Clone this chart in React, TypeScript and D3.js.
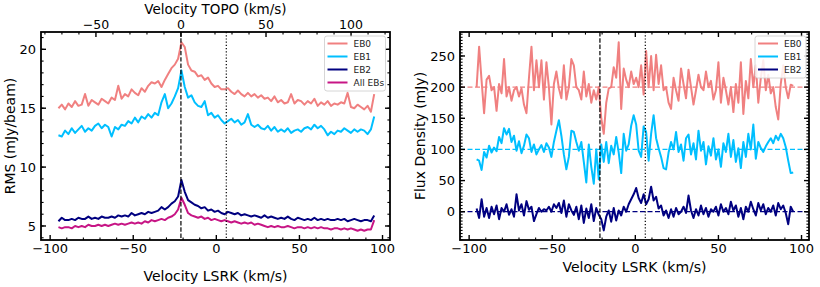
import * as d3 from 'd3'

// channel grids (km/s, LSRK)
const VEL_RMS = d3.range(-95, 96, 2)
const VEL_SPEC = d3.range(-95.5, 95.1, 1.5)

const RMS_EB0 = [
  15.0, 15.3, 14.9, 15.4, 15.1, 15.6, 15.2, 15.3, 16.2, 15.2, 15.7, 15.5, 15.3, 15.8, 15.6, 15.4,
  15.9, 15.7, 16.9, 15.8, 16.2, 16.0, 16.6, 16.3, 16.1, 16.7, 16.4, 16.9, 17.2, 17.1, 17.3, 16.8,
  17.4, 17.9, 18.4, 18.7, 19.2, 20.6, 20.2, 18.7, 18.2, 18.1, 17.7, 17.8, 17.4, 17.6, 17.1, 16.8,
  16.9, 16.6, 16.6, 16.7, 16.4, 16.2, 16.5, 16.2, 16.0, 16.3, 16.0, 16.2, 15.9, 16.1, 15.8, 15.9,
  15.6, 16.0, 15.5, 15.7, 15.4, 15.5, 16.2, 15.4, 15.7, 15.6, 15.3, 15.6, 15.4, 15.8, 15.2, 15.5,
  15.3, 15.6, 15.2, 15.4, 15.3, 15.5, 15.4, 16.3, 15.1, 15.0, 15.3, 15.1, 14.9, 15.2, 14.7, 16.2,
]
const RMS_EB1 = [
  12.7, 12.6, 13.1, 12.8, 13.3, 12.9, 13.2, 13.5, 13.0, 13.3, 13.1, 13.5, 13.7, 13.3, 13.6, 13.4,
  12.6, 13.4, 13.2, 13.6, 13.5, 13.9, 13.7, 14.2, 13.8, 14.3, 14.1, 14.5, 14.2, 14.6, 14.4, 15.5,
  16.2, 15.0, 15.4, 16.0, 16.7, 18.2, 16.8, 15.9, 16.1, 15.5, 15.2, 15.1, 15.6, 14.4, 14.6, 14.2,
  14.4, 14.0, 13.7, 13.9, 14.1, 13.8, 14.0, 13.6, 13.8, 14.5, 13.6, 13.4, 13.6, 13.3, 13.2, 13.5,
  13.1, 13.4, 13.0, 13.2, 13.0, 13.3, 12.9, 13.1, 13.2, 13.0, 13.3, 13.4, 13.2, 13.6, 13.3, 13.5,
  13.2, 12.7, 13.0, 12.8, 13.1, 13.0, 13.3, 13.1, 12.9, 13.2, 13.0, 13.2, 13.1, 12.8, 13.2, 14.3,
]
const RMS_EB2 = [
  5.4, 5.7, 5.5, 5.5, 5.6, 5.5, 5.7, 5.6, 5.6, 5.8, 5.6, 5.7, 5.6, 5.8, 5.7, 5.7,
  5.8, 5.7, 5.9, 5.8, 5.9, 5.8, 6.1, 5.9, 6.0, 6.1, 6.0, 6.2, 6.1, 6.2, 6.3, 6.6,
  6.4, 6.6, 6.9, 7.1, 7.5, 8.9, 7.9, 7.2, 7.0, 6.8, 6.7, 6.5, 6.6, 6.3, 6.4, 6.2,
  6.3, 6.1, 6.0, 6.2, 6.1, 6.0, 6.1, 5.9, 6.0, 5.9, 5.8, 5.9, 5.8, 5.7, 5.9, 5.7,
  5.8, 5.7, 5.6, 5.7, 5.6, 5.8, 5.6, 5.5, 5.7, 5.6, 5.5, 5.6, 5.5, 5.7, 5.5, 5.6,
  5.5, 5.6, 5.5, 5.5, 5.6, 5.5, 5.6, 5.4, 5.5, 5.6, 5.5, 5.4, 5.5, 5.5, 5.4, 5.9,
]
const RMS_ALL = [
  4.9, 4.8, 4.9, 4.9, 4.8, 5.0, 4.9, 5.0, 4.9, 5.1, 5.0, 5.0, 5.1, 5.0, 5.1, 5.0,
  5.1, 5.2, 5.1, 5.2, 5.1, 5.2, 5.3, 5.2, 5.3, 5.2, 5.4, 5.3, 5.5, 5.4, 5.5, 5.6,
  5.5, 5.7, 5.8, 6.0, 6.4, 7.4, 6.8, 6.1, 5.9, 5.8, 5.7, 5.8, 5.6, 5.7, 5.5, 5.6,
  5.5, 5.4, 5.5, 5.4, 5.3, 5.4, 5.3, 5.2, 5.3, 5.2, 5.3, 5.1, 5.2, 5.1, 5.0, 4.9,
  5.0, 4.9, 5.0, 4.9, 4.9, 5.0, 4.9, 4.8, 4.9, 4.9, 4.8, 4.9, 4.8, 4.9, 4.8, 4.9,
  4.8, 4.8, 4.7, 4.8, 4.8, 4.7, 4.8, 4.7, 4.8, 4.7, 4.6, 4.7, 4.6, 4.7, 4.7, 5.5,
]

const SPEC_EB0 = [
  200, 265, 210, 158, 212, 218, 195, 200, 162, 205, 190, 245, 185, 200, 178, 195,
  200, 185, 198, 172, 158, 215, 265, 195, 243, 200, 243, 180, 240, 200, 140, 205,
  225, 198, 182, 235, 180, 200, 245, 235, 200, 195, 180, 225, 185, 205, 175, 195,
  180, 200, 150, 125, 175, 198, 200, 232, 215, 272, 165, 230, 212, 200, 225, 205,
  215, 200, 235, 188, 258, 200, 250, 195, 252, 205, 235, 195, 200, 175, 165, 215,
  195, 178, 230, 205, 182, 228, 200, 172, 195, 220, 200, 195, 225, 200, 210, 180,
  195, 240, 175, 215, 195, 172, 200, 160, 205, 175, 240, 157, 210, 182, 245, 200,
  235, 175, 215, 243, 195, 220, 190, 200, 168, 148, 205, 235, 200, 182, 204, 202,
]
const SPEC_EB1 = [
  84, 82, 67, 96, 87, 106, 95, 103, 97, 120, 110, 134, 124, 133, 112, 122,
  98, 113, 94, 106, 124, 118, 96, 108, 92, 100, 107, 96, 110, 103, 88, 112,
  130, 147, 122, 92, 68, 88, 130, 128, 112, 98, 112, 80, 47, 108, 72, 45,
  100, 52, 108, 80, 112, 78, 106, 92, 120, 95, 62, 125, 98, 108, 138, 155,
  140, 98, 88, 137, 128, 82, 125, 155, 118, 102, 88, 70, 68, 95, 112, 100,
  128, 96, 108, 82, 118, 124, 92, 110, 84, 130, 98, 112, 76, 105, 90, 118,
  84, 100, 72, 110, 96, 125, 88, 115, 80, 102, 70, 112, 88, 125, 100, 140,
  85, 112, 102, 96, 105, 112, 118, 110, 122, 115, 125, 118, 104, 82, 62, 63,
]
const SPEC_EB2 = [
  5, -10, 20, -8, 6, -10, 8, -4, 10, -12, 6, 0, 12, -5, 4, -8,
  28, 2, 12, -6, 17, 3, 8, -15, -4, 6, 0, 4, 2, 8, 0, 12,
  6, 14, -2, 18, -8, 12, 2, -5, 8, -12, 10, -18, 5, -10, 12, -15,
  6, -5, -12, -30, -8, 2, -16, 6, -14, 2, -6, 8, 0, 12, 20, 28,
  38, 22, 14, 28, 12, 20, 40, 18, 24, 5, 10, -6, 2, -10, 4, -8,
  6, -4, 0, 8, -2, 26, 2, -10, 4, -6, 10, -4, 6, -8, 4, 0,
  8, -6, 12, 0, 6, -4, 16, 2, 10, -8, 6, -12, 8, 0, 16, 4,
  -6, 14, 2, 12, -4, 6, 0, 10, -6, 14, 4, 10, -2, -20, 8, 0,
]

const SPEC_OFFSETS = [200, 100, 0]

const X_TICKS = [-100, -50, 0, 50, 100]
const TOPO_TICKS = [-50, 0, 50, 100]
const RMS_TICKS = [5, 10, 15, 20]
const FLUX_TICKS = [0, 50, 100, 150, 200, 250]

const V_DASHED = -21.3
const V_DOTTED = 6

const C_EB0 = '#F08080'
const C_EB1 = '#00BFFF'
const C_EB2 = '#000080'
const C_ALL = '#C71585'

const W = 820
const H = 287
const TOP = 32
const BOTTOM = 240
const FONT = 'DejaVu Sans, sans-serif'

const fmt = (v: number) => (v < 0 ? `\u2212${Math.abs(v)}` : `${v}`)

type Lin = d3.ScaleLinear<number, number>

function Frame({ x, y, yMinorStep, top }: { x: Lin; y: Lin; yMinorStep: number; top?: Lin }) {
  const [x0, x1] = x.range()
  const xMinor = d3.range(-100, 101, 10).filter((v) => !X_TICKS.includes(v))
  const [yd0, yd1] = y.domain()
  const yMin = d3.range(Math.ceil(yd0 / yMinorStep) * yMinorStep, yd1, yMinorStep)
  const topTicks = top ? TOPO_TICKS : X_TICKS
  const topMinor = top
    ? d3.range(-80, 121, 10).filter((v) => !TOPO_TICKS.includes(v))
    : xMinor
  const ts = top ?? x
  const MJ = 5
  const MN = 2.6
  return (
    <g stroke="#000">
      {X_TICKS.map((v) => (
        <line key={'b' + v} x1={x(v)} x2={x(v)} y1={BOTTOM} y2={BOTTOM - MJ} strokeWidth={1.4} />
      ))}
      {xMinor.map((v) => (
        <line key={'bm' + v} x1={x(v)} x2={x(v)} y1={BOTTOM} y2={BOTTOM - MN} strokeWidth={1.1} />
      ))}
      {topTicks.map((v) => (
        <line key={'t' + v} x1={ts(v)} x2={ts(v)} y1={TOP} y2={TOP + MJ} strokeWidth={1.4} />
      ))}
      {topMinor.map((v) => (
        <line key={'tm' + v} x1={ts(v)} x2={ts(v)} y1={TOP} y2={TOP + MN} strokeWidth={1.1} />
      ))}
      {yMin.map((v) => (
        <g key={'ym' + v}>
          <line x1={x0} x2={x0 + MN} y1={y(v)} y2={y(v)} strokeWidth={1.1} />
          <line x1={x1} x2={x1 - MN} y1={y(v)} y2={y(v)} strokeWidth={1.1} />
        </g>
      ))}
      <rect x={x0} y={TOP} width={x1 - x0} height={BOTTOM - TOP} fill="none" strokeWidth={1.8} />
    </g>
  )
}

function YMajor({ x, y, ticks }: { x: Lin; y: Lin; ticks: number[] }) {
  const [x0, x1] = x.range()
  return (
    <g>
      {ticks.map((v) => (
        <g key={v}>
          <line x1={x0} x2={x0 + 5} y1={y(v)} y2={y(v)} stroke="#000" strokeWidth={1.4} />
          <line x1={x1} x2={x1 - 5} y1={y(v)} y2={y(v)} stroke="#000" strokeWidth={1.4} />
          <text x={x0 - 5} y={y(v) + 4.7} textAnchor="end" fontSize={13} fontFamily={FONT}>
            {fmt(v)}
          </text>
        </g>
      ))}
    </g>
  )
}

function XLabels({ x, ticks, yBase, size = 13 }: { x: Lin; ticks: number[]; yBase: number; size?: number }) {
  return (
    <g>
      {ticks.map((v) => (
        <text key={v} x={x(v)} y={yBase} textAnchor="middle" fontSize={size} fontFamily={FONT}>
          {fmt(v)}
        </text>
      ))}
    </g>
  )
}

function VLines({ x }: { x: Lin }) {
  return (
    <g stroke="#000" strokeWidth={1.2}>
      <line x1={x(V_DASHED)} x2={x(V_DASHED)} y1={TOP} y2={BOTTOM} strokeDasharray="4.4 1.9" />
      <line x1={x(V_DOTTED)} x2={x(V_DOTTED)} y1={TOP} y2={BOTTOM} strokeDasharray="1.2 2" />
    </g>
  )
}

function Legend({ x, y, w, items }: { x: number; y: number; w: number; items: [string, string][] }) {
  const h = items.length * 13 + 3
  return (
    <g>
      <rect x={x} y={y} width={w} height={h} rx={2.5} fill="#fff" fillOpacity={0.85} stroke="#ccc" strokeWidth={0.8} />
      {items.map(([label, c], i) => (
        <g key={label} transform={`translate(${x + 3},${y + 7.5 + i * 13})`}>
          <line x1={0} x2={20} y1={0} y2={0} stroke={c} strokeWidth={2} />
          <text x={26} y={3.2} fontSize={9} fontFamily={FONT} fill="#222">
            {label}
          </text>
        </g>
      ))}
    </g>
  )
}

export default function App() {
  const xL = d3.scaleLinear().domain([-105.5, 104.5]).range([41, 390])
  const topo = d3.scaleLinear().domain([-82.3, 122.9]).range([41, 390])
  const yL = d3.scaleLinear().domain([3.81, 21.47]).range([BOTTOM, TOP])
  const xR = d3.scaleLinear().domain([-105.5, 104.5]).range([460, 809])
  const yR = d3.scaleLinear().domain([-45.4, 288.5]).range([BOTTOM, TOP])

  const lineL = (vals: number[]) =>
    d3
      .line<number>()
      .x((_, i) => xL(VEL_RMS[i]))
      .y((d) => yL(d))(vals) ?? ''
  const lineR = (vals: number[]) =>
    d3
      .line<number>()
      .x((_, i) => xR(VEL_SPEC[i]))
      .y((d) => yR(d))(vals) ?? ''

  const rmsSeries: [number[], string][] = [
    [RMS_EB0, C_EB0],
    [RMS_EB1, C_EB1],
    [RMS_EB2, C_EB2],
    [RMS_ALL, C_ALL],
  ]
  const specSeries: [number[], string][] = [
    [SPEC_EB0, C_EB0],
    [SPEC_EB1, C_EB1],
    [SPEC_EB2, C_EB2],
  ]

  return (
    <div style={{ position: 'absolute', left: 0, top: 0 }}>
      <svg width={W} height={H} style={{ display: 'block', background: '#fff' }}>
        {/* left: RMS per channel */}
        <g>
          {rmsSeries.map(([vals, c]) => (
            <path key={c} d={lineL(vals)} fill="none" stroke={c} strokeWidth={2} strokeLinejoin="round" />
          ))}
          <VLines x={xL} />
          <Frame x={xL} y={yL} yMinorStep={1} top={topo} />
          <YMajor x={xL} y={yL} ticks={RMS_TICKS} />
          <XLabels x={xL} ticks={X_TICKS} yBase={253} />
          <XLabels x={topo} ticks={TOPO_TICKS} yBase={28.5} size={12.5} />
          <text x={215.5} y={281} textAnchor="middle" fontSize={14} fontFamily={FONT}>
            Velocity LSRK (km/s)
          </text>
          <text x={215.5} y={13.5} textAnchor="middle" fontSize={13.5} fontFamily={FONT}>
            Velocity TOPO (km/s)
          </text>
          <text
            transform={`translate(15,${(TOP + BOTTOM) / 2}) rotate(-90)`}
            textAnchor="middle"
            fontSize={14}
            fontFamily={FONT}
          >
            RMS (mJy/beam)
          </text>
          <Legend
            x={324.5}
            y={36}
            w={61}
            items={[
              ['EB0', C_EB0],
              ['EB1', C_EB1],
              ['EB2', C_EB2],
              ['All EBs', C_ALL],
            ]}
          />
        </g>

        {/* right: stacked spectra */}
        <g>
          {specSeries.map(([, c], i) => (
            <line
              key={'h' + c}
              x1={460}
              x2={809}
              y1={yR(SPEC_OFFSETS[i])}
              y2={yR(SPEC_OFFSETS[i])}
              stroke={c}
              strokeWidth={1.2}
              strokeDasharray="5 2.5"
            />
          ))}
          {specSeries.map(([vals, c]) => (
            <path key={c} d={lineR(vals)} fill="none" stroke={c} strokeWidth={2} strokeLinejoin="round" />
          ))}
          <VLines x={xR} />
          <Frame x={xR} y={yR} yMinorStep={5} />
          <YMajor x={xR} y={yR} ticks={FLUX_TICKS} />
          <XLabels x={xR} ticks={X_TICKS} yBase={253} />
          <text x={634.5} y={271.5} textAnchor="middle" fontSize={14} fontFamily={FONT}>
            Velocity LSRK (km/s)
          </text>
          <text
            transform={`translate(425,${(TOP + BOTTOM) / 2}) rotate(-90)`}
            textAnchor="middle"
            fontSize={14}
            fontFamily={FONT}
          >
            Flux Density (mJy)
          </text>
          <Legend
            x={755}
            y={36}
            w={51}
            items={[
              ['EB0', C_EB0],
              ['EB1', C_EB1],
              ['EB2', C_EB2],
            ]}
          />
        </g>
      </svg>
    </div>
  )
}
